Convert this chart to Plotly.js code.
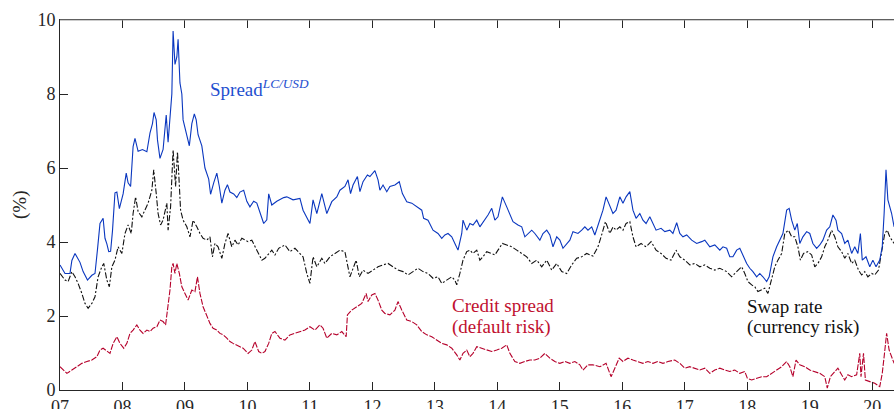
<!DOCTYPE html>
<html>
<head>
<meta charset="utf-8">
<script src="https://cdn.plot.ly/plotly-3.0.1.min.js"></script>
<style>html,body{margin:0;padding:0;background:#fff;}#chart{width:894px;height:409px;}</style>
</head>
<body>
<div id="chart"></div>
<script>
// Years are decimal years within the 2000s (7 = 2007)
const tickYears = [7,8,9,10,11,12,13,14,15,16,17,18,19,20];
const tickLabels = ["07","08","09","10","11","12","13","14","15","16","17","18","19","20"];
const yTicks = [0,2,4,6,8,10];

// Spread LC/USD (blue)
const spreadYears = [7.00,7.08,7.16,7.19,7.24,7.32,7.37,7.44,7.51,7.56,7.60,7.64,7.69,7.72,7.75,7.78,7.81,7.84,7.88,7.91,7.95,8.01,8.06,8.09,8.13,8.17,8.20,8.25,8.32,8.39,8.44,8.48,8.505,8.54,8.56,8.60,8.65,8.70,8.73,8.76,8.79,8.81,8.84,8.87,8.89,8.92,8.95,8.97,9.03,9.07,9.11,9.15,9.18,9.21,9.27,9.32,9.38,9.41,9.46,9.51,9.55,9.59,9.64,9.68,9.72,9.78,9.83,9.88,9.94,9.99,10.04,10.10,10.15,10.20,10.26,10.31,10.34,10.39,10.47,10.58,10.63,10.73,10.84,10.89,10.95,11.00,11.05,11.11,11.19,11.24,11.27,11.35,11.43,11.48,11.56,11.61,11.65,11.69,11.76,11.80,11.85,11.92,11.96,12.04,12.09,12.12,12.17,12.23,12.28,12.36,12.43,12.48,12.55,12.63,12.71,12.79,12.82,12.89,12.97,13.05,13.11,13.16,13.21,13.27,13.32,13.37,13.43,13.45,13.51,13.56,13.61,13.67,13.72,13.80,13.85,13.91,13.96,14.01,14.08,14.15,14.20,14.25,14.33,14.39,14.44,14.49,14.55,14.60,14.68,14.73,14.79,14.84,14.89,14.95,15.00,15.05,15.11,15.16,15.21,15.29,15.35,15.40,15.45,15.51,15.56,15.64,15.69,15.74,15.80,15.85,15.90,15.96,16.01,16.06,16.12,16.14,16.17,16.22,16.28,16.33,16.38,16.44,16.49,16.54,16.62,16.68,16.76,16.81,16.87,16.92,16.97,17.03,17.11,17.19,17.27,17.32,17.40,17.48,17.56,17.61,17.67,17.72,17.77,17.83,17.88,17.94,17.99,18.04,18.09,18.15,18.20,18.25,18.31,18.35,18.41,18.47,18.52,18.57,18.63,18.67,18.71,18.76,18.80,18.84,18.89,18.95,19.00,19.05,19.11,19.16,19.21,19.27,19.32,19.37,19.42,19.45,19.51,19.56,19.61,19.67,19.72,19.77,19.81,19.84,19.90,19.96,20.01,20.06,20.12,20.16,20.19,20.22,20.25,20.31,20.35];
const spreadVals = [3.38,3.15,3.15,3.5,3.69,3.45,3.2,2.97,3.1,3.15,3.8,4.5,4.64,4.1,3.95,3.74,3.75,4.3,5.33,5.35,4.9,5.3,5.86,5.6,5.5,6.58,6.8,6.45,6.5,6.44,6.94,7.2,7.5,7.3,6.76,6.26,6.5,7.43,6.7,7.5,8.0,9.7,8.8,9.0,9.48,8.3,8.0,7.3,6.9,6.6,7.2,7.46,7.3,6.9,6.6,6.0,5.7,5.29,5.6,5.86,5.5,5.05,5.4,5.55,5.35,5.3,5.2,5.35,5.4,5.1,4.95,5.1,5.05,4.8,4.5,4.6,5.3,5.0,5.1,5.2,5.22,5.14,5.18,4.86,4.68,4.5,5.14,4.77,5.31,4.95,4.77,5.09,5.22,5.4,5.5,5.68,5.31,5.54,5.77,5.36,5.63,5.81,5.77,5.93,5.68,5.4,5.54,5.36,5.5,5.54,5.63,5.31,5.09,5.05,4.95,4.86,4.64,4.59,4.32,4.23,4.1,4.19,4.23,4.14,3.96,3.78,4.23,4.59,4.32,4.5,4.46,4.59,4.41,4.59,4.73,4.91,4.59,4.68,5.22,4.95,4.77,4.55,4.46,4.41,4.14,4.23,4.32,4.23,4.05,4.23,4.32,4.19,3.87,4.14,4.05,3.83,3.96,4.05,4.28,4.23,4.32,4.41,4.32,4.41,4.19,4.59,4.86,5.22,4.95,4.77,4.86,5.22,5.05,5.22,5.36,5.14,4.86,4.64,4.77,4.59,4.5,4.68,4.5,4.32,4.37,4.28,4.32,4.23,4.52,4.23,4.14,4.19,4.05,3.96,4.01,4.05,3.87,3.92,3.78,3.87,3.83,3.6,3.6,3.78,3.83,3.6,3.42,3.29,3.2,3.06,3.15,3.06,2.93,3.06,3.6,3.87,4.05,4.23,4.86,4.91,4.59,4.32,4.5,3.96,4.14,4.28,4.23,3.96,3.83,3.92,4.05,4.32,4.41,4.73,4.59,4.32,4.23,3.96,4.05,3.69,3.87,3.69,4.23,3.51,3.6,3.33,3.51,3.33,3.51,3.87,4.77,5.95,5.14,4.77,4.41];

// Swap rate (black)
const swapYears = [7.00,7.08,7.13,7.19,7.24,7.29,7.35,7.40,7.45,7.51,7.56,7.61,7.67,7.70,7.75,7.79,7.83,7.88,7.93,7.99,8.04,8.09,8.14,8.17,8.21,8.25,8.31,8.36,8.41,8.47,8.50,8.54,8.57,8.61,8.65,8.71,8.73,8.77,8.81,8.85,8.88,8.90,8.93,8.97,9.03,9.08,9.13,9.19,9.24,9.29,9.35,9.40,9.44,9.48,9.53,9.59,9.64,9.69,9.75,9.80,9.85,9.91,9.96,10.01,10.07,10.12,10.18,10.23,10.28,10.34,10.39,10.44,10.50,10.60,10.68,10.76,10.84,10.89,10.95,11.00,11.05,11.11,11.19,11.24,11.32,11.40,11.48,11.56,11.60,11.64,11.68,11.74,11.79,11.85,11.93,12.01,12.09,12.17,12.25,12.33,12.41,12.49,12.57,12.65,12.73,12.81,12.89,12.97,13.05,13.11,13.19,13.27,13.32,13.35,13.40,13.45,13.51,13.56,13.61,13.67,13.72,13.77,13.83,13.89,13.96,14.01,14.08,14.15,14.23,14.31,14.39,14.47,14.55,14.63,14.71,14.79,14.87,14.95,15.03,15.11,15.19,15.27,15.35,15.43,15.53,15.61,15.66,15.73,15.80,15.85,15.90,15.96,16.01,16.06,16.12,16.17,16.22,16.30,16.38,16.46,16.54,16.62,16.70,16.78,16.86,16.92,17.00,17.08,17.16,17.24,17.32,17.40,17.48,17.56,17.67,17.75,17.83,17.91,17.96,18.01,18.07,18.12,18.17,18.23,18.28,18.33,18.39,18.44,18.49,18.55,18.60,18.66,18.71,18.76,18.81,18.85,18.90,18.97,19.03,19.08,19.13,19.19,19.24,19.29,19.35,19.40,19.45,19.51,19.56,19.61,19.67,19.72,19.78,19.83,19.88,19.93,19.99,20.04,20.10,20.15,20.20,20.24,20.28,20.35];
const swapVals = [3.15,2.97,2.93,3.2,3.06,2.88,2.61,2.34,2.21,2.34,2.52,3.06,3.33,3.42,2.97,2.79,3.33,3.51,3.87,3.69,4.23,4.46,4.23,4.77,5.22,4.82,4.68,4.86,5.05,5.4,5.95,5.31,4.77,4.46,4.59,5.05,4.32,4.95,6.49,5.5,6.44,5.86,4.86,4.59,4.41,4.14,4.59,4.41,4.23,4.1,4.05,4.14,3.6,3.96,3.87,3.56,3.96,4.23,3.87,4.05,3.92,4.1,4.05,4.01,4.05,3.87,3.69,3.51,3.56,3.69,3.78,3.65,3.83,3.92,3.74,3.83,3.69,3.6,3.15,2.88,3.6,3.33,3.56,3.42,3.6,3.69,3.78,3.74,3.42,3.06,3.24,3.51,3.06,3.24,3.15,3.24,3.33,3.38,3.42,3.33,3.24,3.2,3.11,3.2,3.29,3.2,3.15,3.02,3.06,2.88,2.97,3.06,2.97,2.84,3.15,3.51,3.74,3.78,3.69,3.78,3.51,3.6,3.74,3.69,3.65,3.78,3.96,3.92,3.87,3.78,3.69,3.6,3.42,3.51,3.33,3.51,3.24,3.42,3.2,3.15,3.38,3.56,3.6,3.69,3.62,3.87,4.14,4.55,4.23,4.41,4.32,4.41,4.32,4.5,4.55,4.14,3.87,3.96,3.87,4.01,3.78,3.69,3.56,3.51,3.78,3.6,3.51,3.38,3.42,3.33,3.38,3.29,3.24,3.29,3.2,3.06,3.2,3.33,3.15,2.93,2.84,2.79,2.66,2.7,2.75,2.61,2.97,3.33,3.51,3.69,4.23,4.32,4.14,4.14,3.87,3.51,3.69,3.74,3.65,3.33,3.42,3.6,3.87,4.05,4.32,4.14,3.87,3.74,3.56,3.69,3.42,3.51,3.24,3.11,3.2,3.06,3.15,3.11,3.24,3.69,4.23,4.32,4.14,3.96];

// Credit spread (red)
const creditYears = [7.00,7.05,7.11,7.19,7.27,7.35,7.43,7.51,7.59,7.64,7.69,7.75,7.80,7.85,7.91,7.96,8.02,8.07,8.12,8.17,8.23,8.28,8.33,8.39,8.44,8.49,8.55,8.60,8.65,8.69,8.73,8.76,8.79,8.81,8.84,8.87,8.91,8.95,9.00,9.05,9.11,9.16,9.20,9.24,9.29,9.35,9.40,9.45,9.51,9.56,9.61,9.67,9.72,9.77,9.83,9.88,9.93,10.01,10.07,10.12,10.18,10.23,10.28,10.34,10.39,10.44,10.52,10.60,10.68,10.76,10.84,10.92,11.00,11.08,11.16,11.21,11.27,11.35,11.43,11.51,11.58,11.60,11.67,11.75,11.83,11.90,11.93,11.99,12.04,12.09,12.15,12.20,12.28,12.36,12.41,12.47,12.55,12.63,12.71,12.79,12.87,12.95,13.03,13.11,13.19,13.27,13.35,13.40,13.45,13.51,13.56,13.61,13.67,13.75,13.83,13.91,13.99,14.07,14.15,14.20,14.28,14.36,14.44,14.52,14.60,14.68,14.76,14.84,14.92,15.00,15.08,15.16,15.24,15.32,15.37,15.45,15.53,15.64,15.74,15.82,15.88,15.95,16.01,16.09,16.17,16.25,16.33,16.41,16.49,16.57,16.65,16.73,16.84,16.92,17.00,17.08,17.16,17.24,17.32,17.40,17.48,17.56,17.64,17.72,17.80,17.88,17.96,18.00,18.07,18.15,18.23,18.31,18.39,18.47,18.55,18.63,18.68,18.73,18.78,18.84,18.92,19.00,19.08,19.16,19.24,19.28,19.33,19.40,19.45,19.51,19.56,19.61,19.67,19.75,19.80,19.82,19.86,19.89,19.96,20.04,20.12,20.16,20.19,20.23,20.27,20.31,20.35];
const creditVals = [0.63,0.54,0.45,0.54,0.63,0.72,0.77,0.81,0.9,1.08,1.13,1.04,0.99,1.26,1.44,1.26,1.13,1.26,1.53,1.62,1.76,1.62,1.53,1.62,1.58,1.67,1.71,1.89,1.85,1.76,2.25,2.7,3.33,3.42,3.15,3.42,3.15,2.79,2.61,2.43,2.7,2.66,3.06,2.61,2.25,1.98,1.8,1.67,1.62,1.53,1.49,1.4,1.31,1.26,1.22,1.17,1.13,0.99,1.08,1.31,1.04,0.99,1.04,1.26,1.53,1.58,1.4,1.35,1.49,1.53,1.58,1.62,1.71,1.62,1.76,1.67,1.4,1.53,1.49,1.58,1.44,2.03,2.16,2.25,2.34,2.61,2.39,2.57,2.61,2.43,2.16,2.07,2.03,2.16,2.39,2.16,1.89,1.85,1.76,1.58,1.49,1.44,1.35,1.26,1.22,1.13,0.95,0.81,0.99,1.08,0.9,0.99,1.17,1.13,1.08,1.04,1.08,1.13,1.22,0.99,0.77,0.72,0.77,0.81,0.81,0.86,0.99,0.86,0.77,0.72,0.77,0.72,0.77,0.68,0.54,0.68,0.68,0.63,0.72,0.36,0.59,0.86,0.77,0.86,0.81,0.77,0.72,0.77,0.72,0.77,0.72,0.77,0.81,0.72,0.59,0.63,0.59,0.54,0.59,0.45,0.54,0.59,0.54,0.5,0.54,0.45,0.5,0.32,0.27,0.32,0.36,0.36,0.45,0.54,0.63,0.77,0.63,0.36,0.81,0.68,0.63,0.54,0.5,0.45,0.36,0.05,0.36,0.5,0.59,0.41,0.27,0.41,0.36,0.41,0.99,0.36,0.99,0.27,0.23,0.18,0.09,0.45,0.9,1.53,1.08,0.9,0.72];

const SERIF = "'Liberation Serif', 'DejaVu Serif', serif";

const traces = [
  {x: swapYears, y: swapVals, type: 'scatter', mode: 'lines',
   line: {color: '#111111', width: 1.1, dash: '6px,2px,2px,2px'}, hoverinfo: 'skip'},
  {x: creditYears, y: creditVals, type: 'scatter', mode: 'lines',
   line: {color: '#b5002b', width: 1.1, dash: '6px,1.5px'}, hoverinfo: 'skip'},
  {x: spreadYears, y: spreadVals, type: 'scatter', mode: 'lines',
   line: {color: '#0a37bf', width: 1.1}, hoverinfo: 'skip'}
];

function label(x, y, text, color) {
  return {xref: 'x', yref: 'y', x: x, y: y, xanchor: 'left', yanchor: 'middle',
          text: text, showarrow: false, font: {family: SERIF, size: 19, color: color}};
}

const layout = {
  width: 894, height: 409,
  margin: {l: 60, r: 0, t: 20, b: 19},
  paper_bgcolor: '#ffffff', plot_bgcolor: '#ffffff',
  showlegend: false,
  font: {family: SERIF, size: 18, color: '#262626'},
  xaxis: {
    range: [7, 20.348], tickvals: tickYears, ticktext: tickLabels,
    ticks: 'inside', ticklen: 8, tickcolor: '#262626', tickwidth: 1,
    showline: true, linecolor: '#262626', linewidth: 1, mirror: 'ticks',
    showgrid: false, zeroline: false,
    tickfont: {family: SERIF, size: 18, color: '#262626'}
  },
  yaxis: {
    range: [0, 10], tickvals: yTicks,
    ticks: 'inside', ticklen: 8, tickcolor: '#262626', tickwidth: 1,
    showline: true, linecolor: '#262626', linewidth: 1,
    showgrid: false, zeroline: false,
    tickfont: {family: SERIF, size: 18, color: '#262626'}
  },
  shapes: [
    {type: 'line', xref: 'paper', yref: 'paper', x0: 0, x1: 1, y0: 1, y1: 1,
     line: {color: '#9a9a9a', width: 1}, layer: 'above'}
  ],
  annotations: [
    label(9.369, 8.15, 'Spread<sup><i>LC/USD</i></sup>', '#1f4fcf'),
    label(13.242, 2.28, 'Credit spread', '#c0102f'),
    label(13.242, 1.71, '(default risk)', '#c0102f'),
    label(17.963, 2.26, 'Swap rate', '#111111'),
    label(17.963, 1.69, '(currency risk)', '#111111'),
    {xref: 'paper', yref: 'paper', x: -0.048, y: 0.5, xanchor: 'center', yanchor: 'middle',
     text: '(%)', textangle: -90, showarrow: false,
     font: {family: SERIF, size: 19, color: '#262626'}}
  ]
};

Plotly.newPlot('chart', traces, layout, {staticPlot: true, displayModeBar: false});
</script>
</body>
</html>
